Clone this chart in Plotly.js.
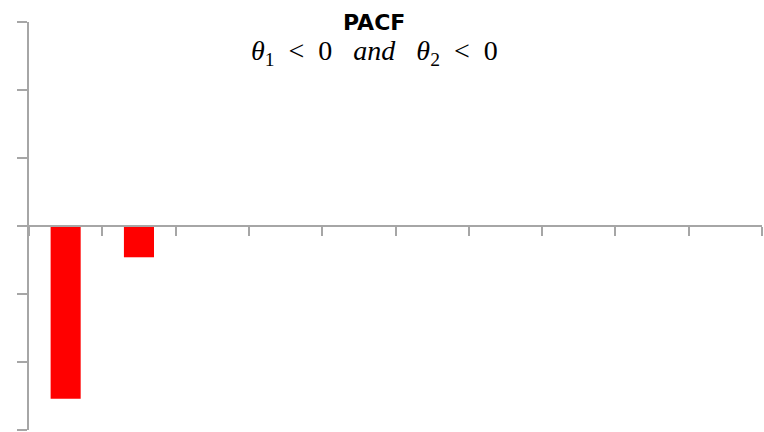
<!DOCTYPE html>
<html>
<head>
<meta charset="utf-8">
<script src="https://cdn.plot.ly/plotly-3.0.1.min.js"></script>
<style>
  html, body { margin: 0; padding: 0; background: #ffffff; }
  #chart { width: 764px; height: 432px; }
</style>
</head>
<body>
<div id="chart"></div>
<script>
// Partial autocorrelation by lag
const lags = [1, 2, 3, 4, 5, 6, 7, 8, 9, 10];
const pacf = [-0.508, -0.092, 0, 0, 0, 0, 0, 0, 0, 0];

const titleMain = "<b>PACF</b>";
const sp2 = "\u00a0\u00a0";
const sp3 = "\u00a0\u00a0\u00a0";
const titleSub = "<i>θ</i><sub>1</sub>" + sp2 + "&lt;" + sp2 + "0" + sp3 + "<i>and</i>" + sp3 +
                 "<i>θ</i><sub>2</sub>" + sp2 + "&lt;" + sp2 + "0";

const axisGray = "#a6a6a6";

const trace = {
  type: "bar",
  x: lags,
  y: pacf,
  width: 0.41,
  marker: { color: "#ff0000", line: { width: 0 } },
  hoverinfo: "x+y"
};

const layout = {
  width: 764,
  height: 432,
  margin: { l: 29, r: 2, t: 22, b: 2, pad: 0 },
  paper_bgcolor: "#ffffff",
  plot_bgcolor: "#ffffff",
  showlegend: false,
  xaxis: {
    range: [0.5, 10.5],
    tick0: 0.5,
    dtick: 1,
    anchor: "free",
    position: 0.5,
    showline: true,
    linecolor: axisGray,
    linewidth: 2,
    ticks: "outside",
    ticklen: 9,
    tickwidth: 2,
    tickcolor: axisGray,
    showticklabels: false,
    showgrid: false,
    zeroline: false,
    fixedrange: true
  },
  yaxis: {
    range: [-0.6, 0.6],
    tick0: 0,
    dtick: 0.2,
    showline: true,
    linecolor: axisGray,
    linewidth: 2,
    ticks: "outside",
    ticklen: 10,
    tickwidth: 2,
    tickcolor: axisGray,
    showticklabels: false,
    showgrid: false,
    zeroline: false,
    fixedrange: true
  },
  annotations: [
    {
      text: titleMain,
      xref: "paper", yref: "paper",
      x: 0.471, y: 1.0,
      xanchor: "center", yanchor: "middle",
      showarrow: false,
      font: { family: "DejaVu Sans", size: 22, color: "#000000" }
    },
    {
      text: titleSub,
      xref: "paper", yref: "paper",
      x: 0.471, y: 0.926,
      xanchor: "center", yanchor: "middle",
      showarrow: false,
      font: { family: "Liberation Serif", size: 28, color: "#000000" }
    }
  ]
};

Plotly.newPlot("chart", [trace], layout, { displayModeBar: false, staticPlot: true });
</script>
</body>
</html>
